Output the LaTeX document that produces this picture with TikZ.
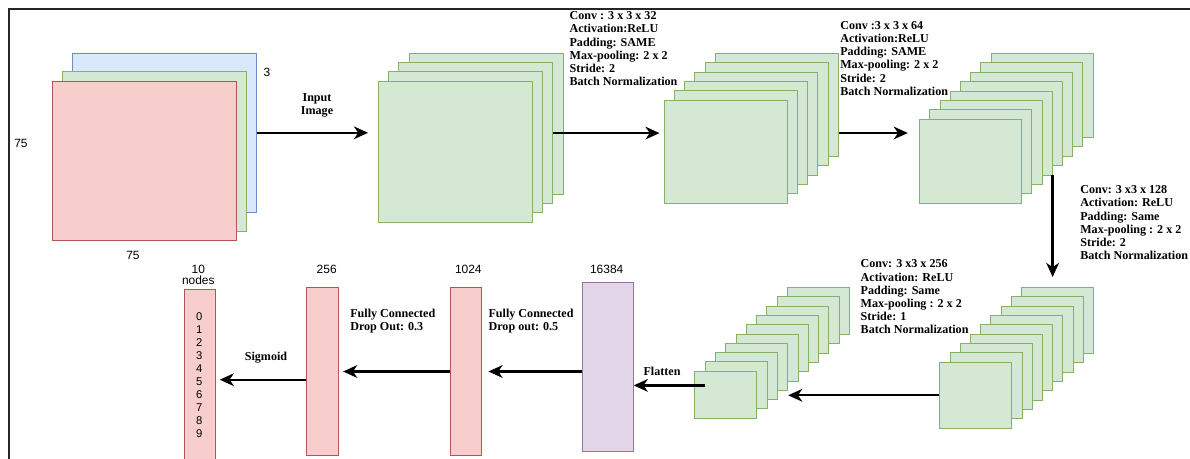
\documentclass[tikz,border=0pt]{standalone}
\usepackage{fontspec}
\setmainfont{Liberation Serif}
\setsansfont{Liberation Sans}
\usetikzlibrary{arrows.meta}
\definecolor{gfill}{HTML}{D5E8D4}
\definecolor{gline}{HTML}{82B366}
\definecolor{rfill}{HTML}{F8CECC}
\definecolor{rline}{HTML}{B85450}
\definecolor{bfill}{HTML}{DAE8FC}
\definecolor{bline}{HTML}{6C8EBF}
\definecolor{pfill}{HTML}{E1D5E7}
\definecolor{pline}{HTML}{9673A6}

\begin{document}
\begin{tikzpicture}[x=0.025cm, y=-0.025cm,
    >={Stealth[length=10pt, width=9pt, inset=3pt]},
    fmap/.style 2 args={draw=gline, fill=gfill, line width=0.6pt, inner sep=0pt,
        minimum width=#1*0.025cm, minimum height=#2*0.025cm},
    bar/.style 2 args={draw=rline, fill=rfill, line width=0.6pt, inner sep=0pt,
        minimum width=#1*0.025cm, minimum height=#2*0.025cm},
    info/.style={font=\bfseries\fontsize{8.6}{9.4}\selectfont, align=left, inner sep=0pt},
    dimlabel/.style={font=\sffamily\fontsize{8.5}{7.8}\selectfont, inner sep=0pt},
    flow/.style={->, line width=1.7pt}]
    \useasboundingbox (0,0) rectangle (1190,459);
    \draw[line width=1.4pt, black!85] (9,459) -- (9,9) -- (1190,9);

    \node[fmap={184}{159}, draw=bline, fill=bfill] (A3) at (164.7,132.8) {};
    \node[fmap={184}{160}] (A2) at (154.5,151.7) {};
    \node[fmap={184}{159}, draw=rline, fill=rfill] (A1) at (144.5,160.5) {};
    \node[dimlabel] (L1) at (267,72) {3};
    \node[dimlabel] (L2) at (21,143) {75};
    \node[dimlabel] (L3) at (133,255) {75};

    \node[fmap={154}{141}] (B4) at (486.2,123.8) {};
    \node[fmap={154}{141}] (B3) at (475.9,133.1) {};
    \node[fmap={154}{141}] (B2) at (465.6,142.4) {};
    \node[fmap={154}{141}] (B1) at (455.3,151.7) {};

    \node[fmap={123}{103}] (C6) at (776.7,105.0) {};
    \node[fmap={123}{103}] (C5) at (766.5,114.4) {};
    \node[fmap={123}{103}] (C4) at (756.3,123.7) {};
    \node[fmap={123}{103}] (C3) at (746.1,133.0) {};
    \node[fmap={123}{103}] (C2) at (735.9,142.4) {};
    \node[fmap={123}{103}] (C1) at (725.7,151.7) {};

    \node[fmap={102}{84}] (D8) at (1042.2,95.5) {};
    \node[fmap={102}{84}] (D7) at (1031.9,104.8) {};
    \node[fmap={102}{84}] (D6) at (1021.7,114.2) {};
    \node[fmap={102}{84}] (D5) at (1011.4,123.6) {};
    \node[fmap={102}{84}] (D4) at (1001.2,133.0) {};
    \node[fmap={102}{84}] (D3) at (991.0,142.4) {};
    \node[fmap={102}{84}] (D2) at (980.7,151.8) {};
    \node[fmap={102}{84}] (D1) at (970.5,161.2) {};

    \node[fmap={72}{66}] (E9) at (1057.6,320.3) {};
    \node[fmap={72}{66}] (E8) at (1047.4,329.7) {};
    \node[fmap={72}{66}] (E7) at (1037.2,339.1) {};
    \node[fmap={72}{66}] (E6) at (1026.9,348.4) {};
    \node[fmap={72}{66}] (E5) at (1016.7,357.8) {};
    \node[fmap={72}{66}] (E4) at (1006.5,367.2) {};
    \node[fmap={72}{66}] (E3) at (996.3,376.6) {};
    \node[fmap={72}{66}] (E2) at (986.1,385.9) {};
    \node[fmap={72}{66}] (E1) at (975.9,395.3) {};

    \node[fmap={62}{47}] (F10) at (818.2,311.0) {};
    \node[fmap={62}{47}] (F9) at (808.0,320.3) {};
    \node[fmap={62}{47}] (F8) at (797.7,329.6) {};
    \node[fmap={62}{47}] (F7) at (787.5,338.9) {};
    \node[fmap={62}{47}] (F6) at (777.2,348.2) {};
    \node[fmap={62}{47}] (F5) at (767.0,357.5) {};
    \node[fmap={62}{47}] (F4) at (756.7,366.8) {};
    \node[fmap={62}{47}] (F3) at (746.4,376.1) {};
    \node[fmap={62}{47}] (F2) at (736.2,385.4) {};
    \node[fmap={62}{47}] (F1) at (725.9,394.7) {};

    \node[bar={51}{169}, draw=pline, fill=pfill] (G) at (607.8,366.7) {};
    \node[bar={31}{168}] (H) at (465.5,371.5) {};
    \node[bar={32}{168}] (I) at (322.5,371.5) {};
    \node[bar={31}{181}] (J) at (200.3,379.7) {};
    \node[dimlabel] (L14) at (606.7,269) {16384};
    \node[dimlabel] (L15) at (468.3,269) {1024};
    \node[dimlabel] (L16) at (326.7,269) {256};
    \node[dimlabel, align=center] (L13) at (198.3,274.5) {10\\nodes};
    \node[dimlabel, align=center, font=\sffamily\fontsize{8}{9.2}\selectfont] (L17) at (199.3,375.3) {0\\1\\2\\3\\4\\5\\6\\7\\8\\9};

    \draw[flow, shorten >=7pt] (A3.east) -- (A3.east -| B1.west);
    \node[info, align=center] (L4) at (317,105) {Input\\Image};
    \draw[flow, shorten >=3pt] (B3.east) -- (B3.east -| C1.west);
    \node[info, right] (L5) at (569.3,48.7) {Conv : 3 x 3 x 32\\Activation:ReLU\\Padding: SAME\\Max-pooling: 2 x 2\\Stride: 2\\Batch Normalization};
    \draw[flow, shorten >=8pt] (C6.east |- C3.east) -- (D1.west |- C3.east);
    \node[info, right] (L6) at (840,58.3) {Conv :3 x 3 x 64\\Activation:ReLU\\Padding: SAME\\Max-pooling: 2 x 2\\Stride: 2\\Batch Normalization};
    \draw[flow, shorten >=7pt] (D4.south east) -- (D4.south east |- E9.north);
    \node[info, right] (L7) at (1080,222.7) {Conv: 3 x3 x 128\\Activation: ReLU\\Padding: Same\\Max-pooling : 2 x 2\\Stride: 2\\Batch Normalization};
    \draw[flow] (E1.west) -- (E1.west -| F4.east);
    \node[info, right] (L8) at (860.4,297) {Conv: 3 x3 x 256\\Activation: ReLU\\Padding: Same\\Max-pooling : 2 x 2\\Stride: 1\\Batch Normalization};
    \draw[flow] (F2.west) -- (F2.west -| G.east);
    \node[info, right] (L9) at (643.3,371) {Flatten};
    \draw[flow, shorten >=5pt] (G.west |- H.east) -- (H.east);
    \node[info, right] (L10) at (488.3,320.7) {Fully Connected\\Drop out: 0.5};
    \draw[flow, shorten >=3pt] (H.west) -- (I.east);
    \node[info, right] (L11) at (350,320.7) {Fully Connected\\Drop Out: 0.3};
    \draw[flow, shorten >=2.5pt] (I.west |- J.east) -- (J.east);
    \node[info] (L12) at (266,357.3) {Sigmoid};
\end{tikzpicture}
\end{document}
